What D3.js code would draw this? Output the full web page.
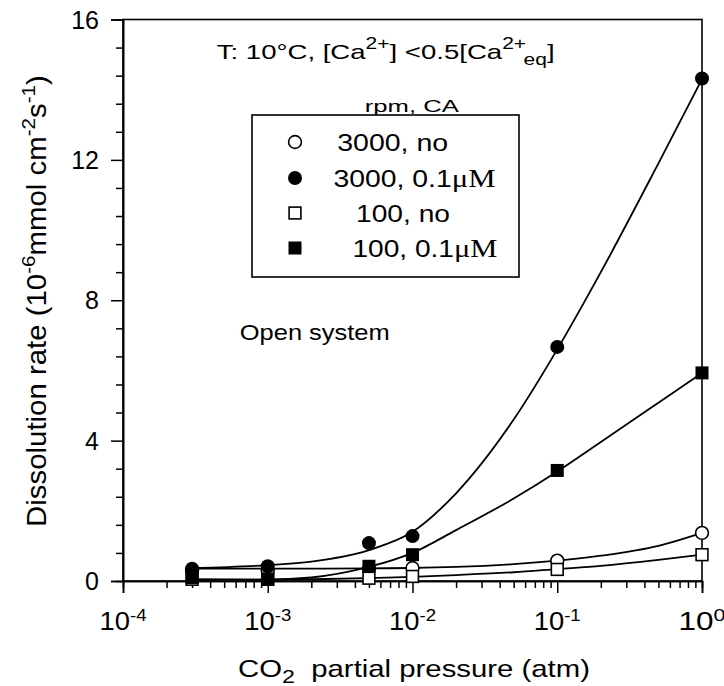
<!DOCTYPE html>
<html><head><meta charset="utf-8">
<script src="https://cdn.jsdelivr.net/npm/d3@7"></script>
<style>
html,body{margin:0;padding:0;background:#fff;}
svg{display:block;}
text{font-family:"Liberation Sans",Arial,Helvetica,sans-serif;fill:#000;}
</style></head>
<body>
<svg id="chart" width="724" height="686"></svg>
<script>
// ---------- data ----------
const pressures = [3e-4, 1e-3, 5e-3, 1e-2, 1e-1, 1];
const rate3000CA   = [0.35, 0.42, 1.08, 1.28, 6.67, 14.32];   // filled circles
const rate100CA    = [0.10, 0.05, 0.42, 0.75, 3.15, 5.93];    // filled squares
const rate3000noCA = [0.30, 0.30, 0.35, 0.37, 0.58, 1.37];    // open circles
const rate100noCA  = [0.05, 0.05, 0.08, 0.13, 0.33, 0.75];    // open squares

// fitted curves
const fitPressures = [3e-4, 1e-3, 2e-3, 5e-3, 1e-2, 2e-2, 5e-2, 1e-1, 2e-1, 5e-1, 1];
const fit3000CA   = [0.37, 0.45, 0.55, 0.88, 1.40, 2.50, 4.60, 6.60, 8.80, 11.90, 14.30];
const fit100CA    = [0.05, 0.04, 0.10, 0.40, 0.80, 1.45, 2.35, 3.12, 3.96, 5.08, 5.93];
const fit3000noCA = [0.35, 0.35, 0.35, 0.36, 0.37, 0.40, 0.48, 0.58, 0.72, 1.00, 1.37];
const fit100noCA  = [0.03, 0.04, 0.05, 0.08, 0.12, 0.17, 0.25, 0.34, 0.43, 0.60, 0.75];

const xMajorTicks = [1e-4, 1e-3, 1e-2, 1e-1, 1];
const xTickExponents = ["-4", "-3", "-2", "-1", "0"];
const yMajorTicks = [0, 4, 8, 12, 16];
const legendLabels = [["3000, no", ""], ["3000, 0.1", "\u03BCM"], ["100, no", ""], ["100, 0.1", "\u03BCM"]];

// ---------- layout ----------
const svg = d3.select("#chart");
const L = 123, R = 702, T = 19.5, B = 581;
const x = d3.scaleLog().domain([1e-4, 1]).range([L, R]);
const y = d3.scaleLinear().domain([0, 16]).range([B, T]);

function fitWidth(sel, w) {
  const b = sel.node().getBBox();
  const k = w / b.width;
  const cx = b.x + b.width / 2;
  sel.attr("transform", (sel.attr("transform") || "") + ` translate(${cx},0) scale(${k},1) translate(${-cx},0)`);
}

// frame
svg.append("rect").attr("x", L).attr("y", T).attr("width", R - L).attr("height", B - T)
  .attr("fill", "none").attr("stroke", "#000").attr("stroke-width", 1.6);

// x axis
const xMinor = [];
for (let e = -4; e < 0; e++) for (let m = 2; m <= 9; m++) xMinor.push(m * Math.pow(10, e));
const gxMin = svg.append("g").attr("transform", `translate(0,${B})`)
  .call(d3.axisBottom(x).tickValues(xMinor).tickSize(7).tickFormat(""));
const gx = svg.append("g").attr("transform", `translate(0,${B})`)
  .call(d3.axisBottom(x).tickValues(xMajorTicks).tickSize(12).tickFormat(""));
[gxMin, gx].forEach(g => { g.select(".domain").attr("stroke-width", 1.6); g.selectAll(".tick line").attr("stroke-width", 1.5); });

xMajorTicks.forEach((v, i) => {
  const t = svg.append("text").attr("x", x(v)).attr("y", 630).attr("text-anchor", "middle")
    .attr("font-size", 25);
  t.append("tspan").text("10");
  t.append("tspan").attr("dy", -9).attr("font-size", 17).text(xTickExponents[i]);
  fitWidth(t, 47);
});

// y axis
const yMinor = d3.range(0, 16.01, 0.8).filter(v => Math.abs(v / 4 - Math.round(v / 4)) > 1e-6);
const gyMin = svg.append("g").attr("transform", `translate(${L},0)`)
  .call(d3.axisLeft(y).tickValues(yMinor).tickSize(7).tickFormat(""));
const gy = svg.append("g").attr("transform", `translate(${L},0)`)
  .call(d3.axisLeft(y).tickValues(yMajorTicks).tickSize(12).tickFormat(""));
[gyMin, gy].forEach(g => { g.select(".domain").attr("stroke-width", 1.6); g.selectAll(".tick line").attr("stroke-width", 1.5); });
yMajorTicks.forEach(v => {
  svg.append("text").attr("x", 99).attr("y", y(v) + 9).attr("text-anchor", "end")
    .attr("font-size", 25).text(v);
});

// axis titles
const xt = svg.append("text").attr("x", 414).attr("y", 677).attr("text-anchor", "middle").attr("font-size", 24);
xt.append("tspan").text("CO");
xt.append("tspan").attr("dy", 6).attr("font-size", 19).text("2");
xt.append("tspan").attr("dy", -6).text("\u00A0\u00A0partial pressure (atm)");
fitWidth(xt, 352);

const yg = svg.append("g").attr("transform", "translate(46,301) rotate(-90)");
const yt = yg.append("text").attr("x", 0).attr("y", 0).attr("text-anchor", "middle").attr("font-size", 27);
yt.append("tspan").text("Dissolution rate (10");
yt.append("tspan").attr("dy", -11).attr("font-size", 19).text("-6");
yt.append("tspan").attr("dy", 11).text("mmol cm");
yt.append("tspan").attr("dy", -11).attr("font-size", 19).text("-2");
yt.append("tspan").attr("dy", 11).text("s");
yt.append("tspan").attr("dy", -11).attr("font-size", 19).text("-1");
yt.append("tspan").attr("dy", 11).text(")");
fitWidth(yt, 452);

// curves
const line = d3.line().x(d => x(d[0])).y(d => y(d[1])).curve(d3.curveMonotoneX);
[fit3000CA, fit100CA, fit3000noCA, fit100noCA].forEach(f => {
  svg.append("path").datum(fitPressures.map((p, i) => [p, f[i]]))
    .attr("d", line).attr("fill", "none").attr("stroke", "#000").attr("stroke-width", 1.8);
});

// markers
const R_C = 7, S_Q = 13;
function circle(g, cx, cy, filled) {
  g.append("circle").attr("cx", cx).attr("cy", cy).attr("r", filled ? R_C : R_C - 0.6)
    .attr("fill", filled ? "#000" : "#fff").attr("stroke", "#000").attr("stroke-width", filled ? 0 : 1.6);
}
function square(g, cx, cy, filled) {
  const s = filled ? S_Q : S_Q - 1.2;
  g.append("rect").attr("x", cx - s / 2).attr("y", cy - s / 2).attr("width", s).attr("height", s)
    .attr("fill", filled ? "#000" : "#fff").attr("stroke", "#000").attr("stroke-width", filled ? 0 : 1.6);
}
const mk = svg.append("g");
pressures.forEach((p, i) => circle(mk, x(p), y(rate3000noCA[i]), false));
pressures.forEach((p, i) => square(mk, x(p), y(rate100noCA[i]), false));
pressures.forEach((p, i) => square(mk, x(p), y(rate100CA[i]), true));
pressures.forEach((p, i) => circle(mk, x(p), y(rate3000CA[i]), true));

// annotation
const ann = svg.append("text").attr("x", 257).attr("y", 59).attr("font-size", 21);
ann.append("tspan").text("T: 10\u00B0C, [Ca");
ann.append("tspan").attr("dy", -10).attr("font-size", 16).text("2+");
ann.append("tspan").attr("dy", 10).text("] <0.5[Ca");
ann.append("tspan").attr("dy", -10).attr("font-size", 16).text("2+");
ann.append("tspan").attr("dy", 16).attr("dx", -2).attr("font-size", 16).text("eq");
ann.append("tspan").attr("dy", -6).text("]");
fitWidth(ann, 338);

const ot = svg.append("text").attr("x", 250).attr("y", 340).attr("font-size", 22).text("Open system");
fitWidth(ot, 150);

// legend
const lt = svg.append("text").attr("x", 412).attr("y", 112).attr("text-anchor", "middle").attr("font-size", 17).text("rpm, CA");
fitWidth(lt, 95);
svg.append("rect").attr("x", 252).attr("y", 115).attr("width", 267).attr("height", 162)
  .attr("fill", "#fff").attr("stroke", "#000").attr("stroke-width", 1.6);
const rowsY = [142, 178, 213, 248];
const textX = [346, 346, 363, 363];
const widths = [111, 162, 94, 145];
const lg = svg.append("g");
circle(lg, 295, rowsY[0], false);
circle(lg, 295, rowsY[1], true);
square(lg, 295, rowsY[2], false);
square(lg, 295, rowsY[3], true);
legendLabels.forEach((lab, i) => {
  const t = lg.append("text").attr("x", textX[i]).attr("y", rowsY[i] + 9).attr("font-size", 24);
  t.append("tspan").text(lab[0]);
  if (lab[1]) t.append("tspan").attr("font-family", "'Liberation Serif','Times New Roman',serif").attr("font-size", 26).text(lab[1]);
  fitWidth(t, widths[i]);
});
</script>
</body></html>
